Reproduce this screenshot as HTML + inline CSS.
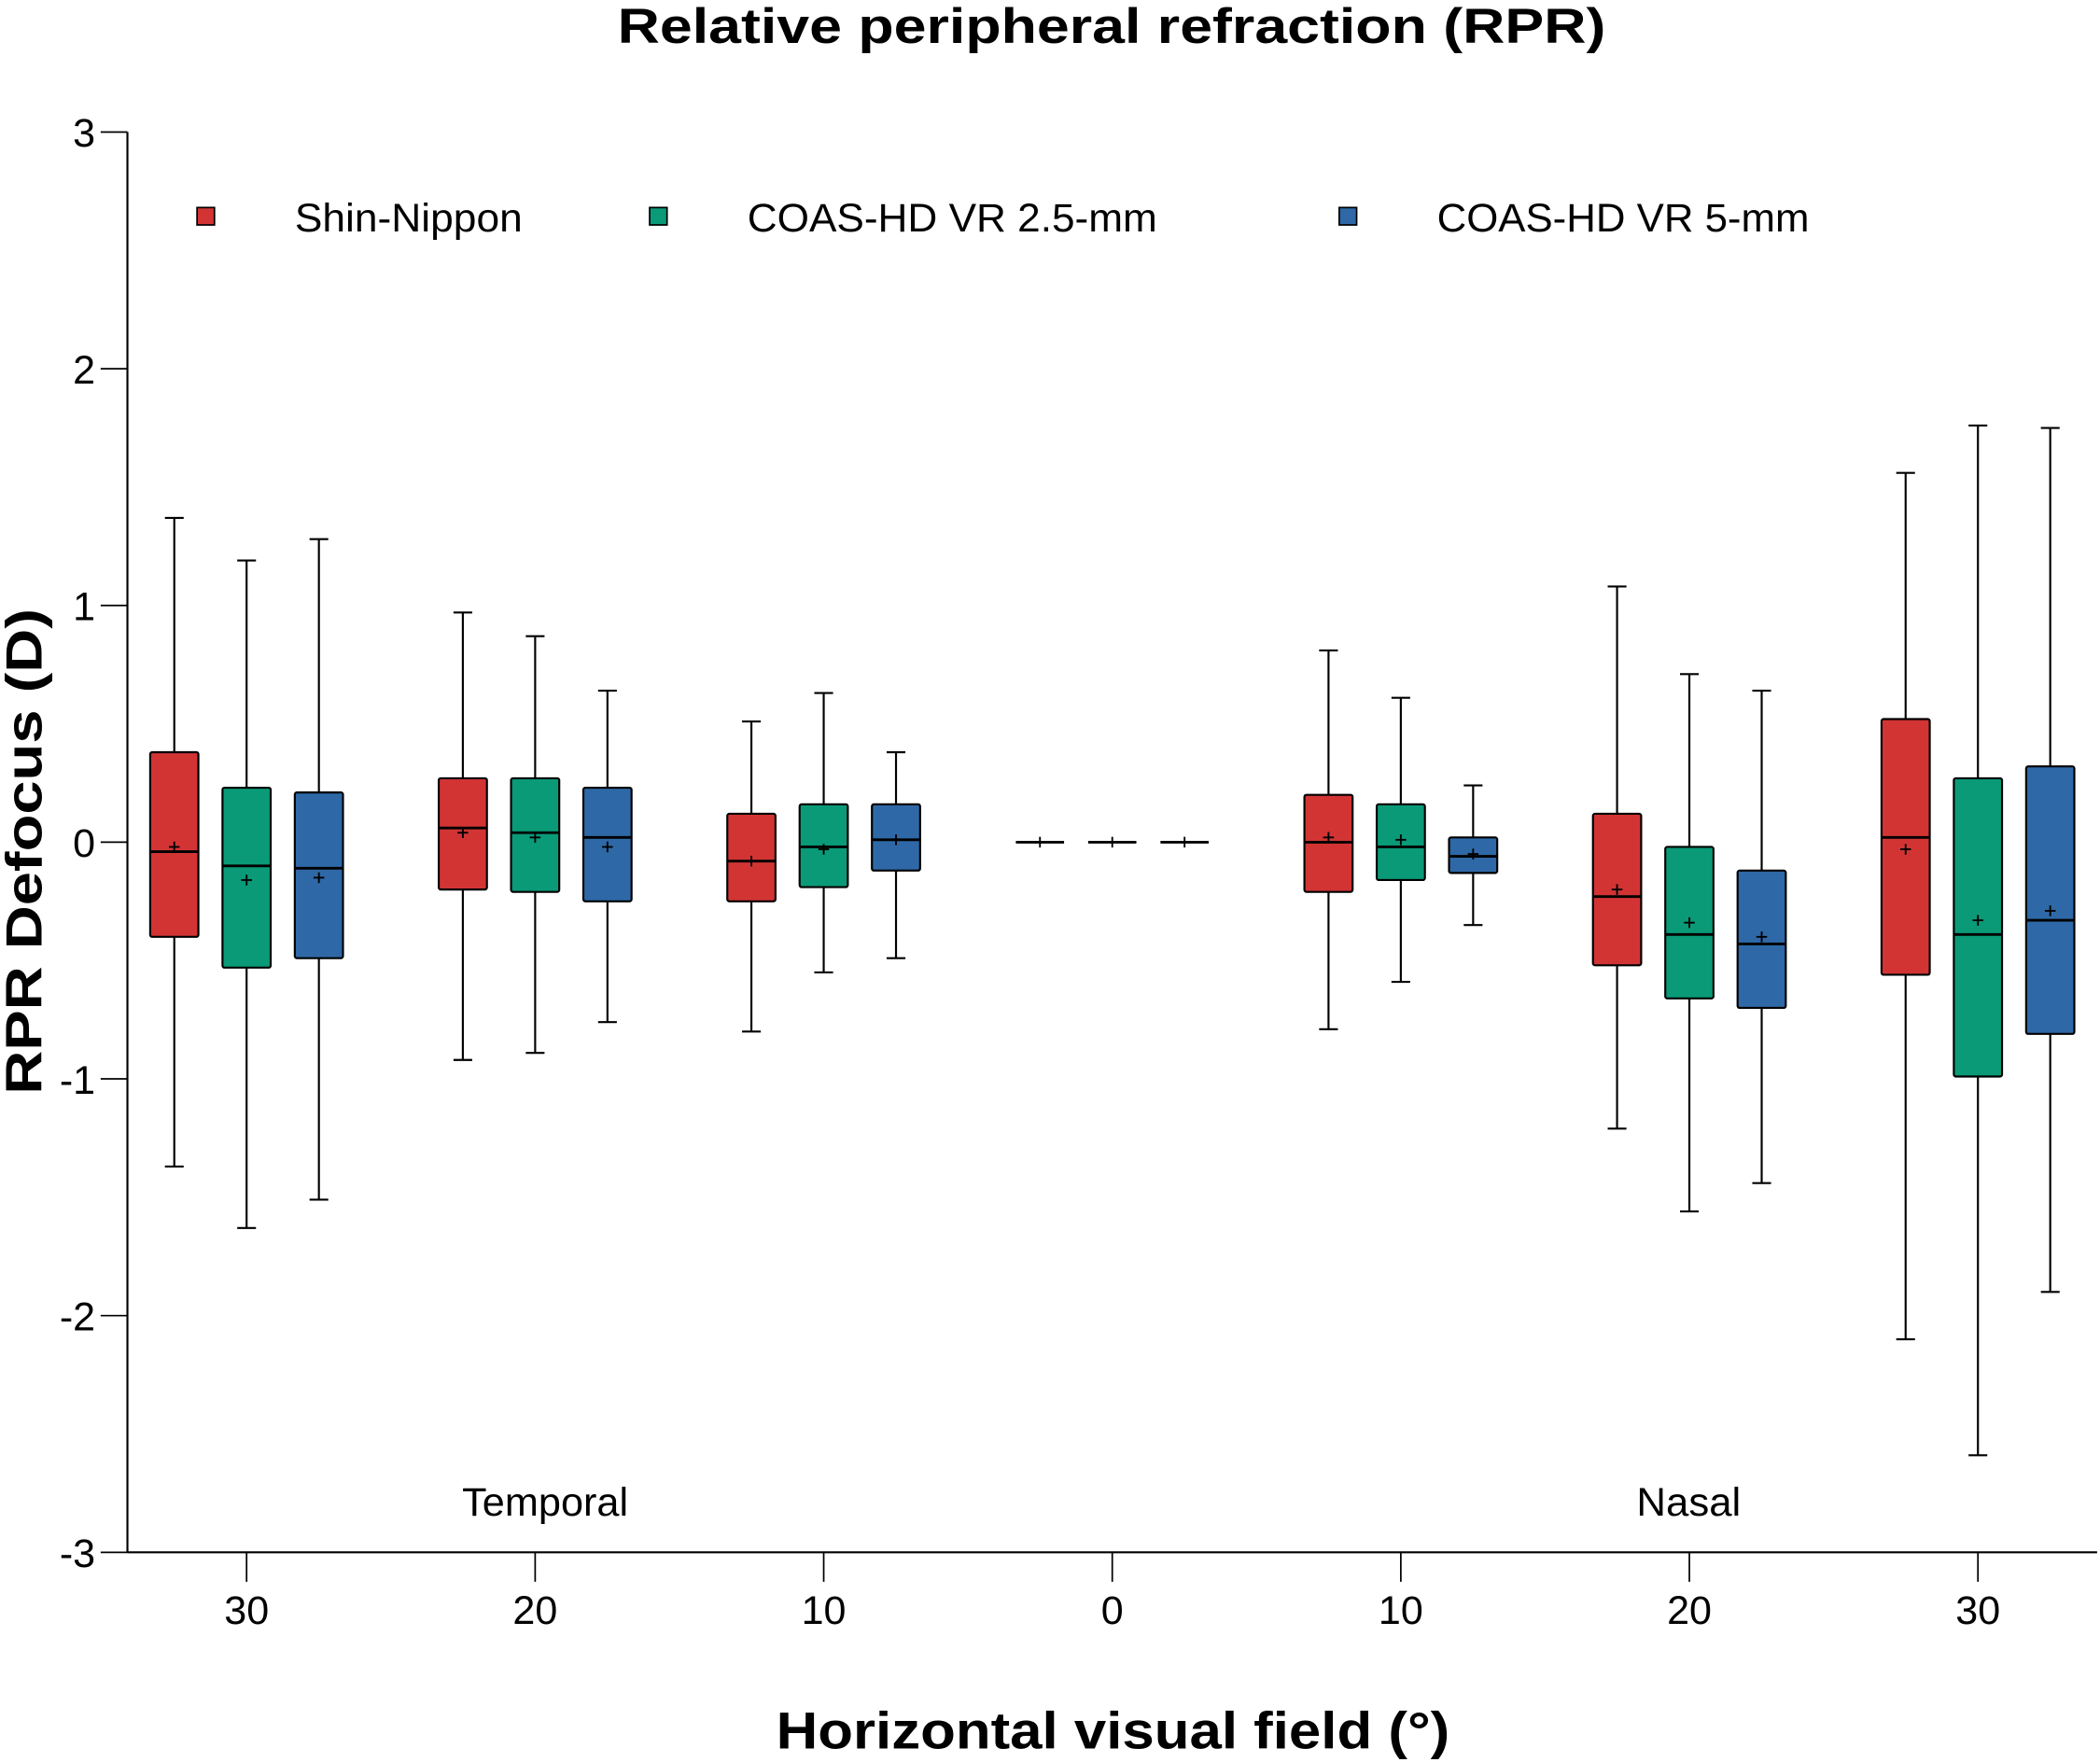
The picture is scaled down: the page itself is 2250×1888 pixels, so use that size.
<!DOCTYPE html>
<html><head><meta charset="utf-8"><style>html,body{margin:0;padding:0;background:#fff}svg{display:block}text{font-family:"Liberation Sans",sans-serif}</style></head>
<body>
<svg id="chart" width="2250" height="1888" viewBox="0 0 1568 1316" xmlns="http://www.w3.org/2000/svg">
<text x="830" y="32" font-size="37" font-weight="bold" text-anchor="middle" textLength="738" lengthAdjust="spacingAndGlyphs">Relative peripheral refraction (RPR)</text>
<text transform="translate(31,636) rotate(-90)" font-size="38" font-weight="bold" text-anchor="middle" textLength="363" lengthAdjust="spacingAndGlyphs">RPR Defocus (D)</text>
<text x="831" y="1306" font-size="39" font-weight="bold" text-anchor="middle" textLength="503" lengthAdjust="spacingAndGlyphs">Horizontal visual field (°)</text>
<text x="407" y="1132" font-size="30" text-anchor="middle" textLength="124" lengthAdjust="spacingAndGlyphs">Temporal</text>
<text x="1261" y="1132" font-size="30" text-anchor="middle" textLength="78" lengthAdjust="spacingAndGlyphs">Nasal</text>
<g id="axes"></g><g id="boxes"></g><g id="legend"></g>
</svg>
<script>
const categories=["30","20","10","0","10","20","30"];
const seriesNames=["Shin-Nippon","COAS-HD VR 2.5-mm","COAS-HD VR 5-mm"];
const yTicks=[3,2,1,0,-1,-2,-3];
const whiskHigh=[[1.37,0.97,0.51,0,0.81,1.08,1.56],[1.19,0.87,0.63,0,0.61,0.71,1.76],[1.28,0.64,0.38,0,0.24,0.64,1.75]];
const q3=[[0.38,0.27,0.12,0,0.20,0.12,0.52],[0.23,0.27,0.16,0,0.16,-0.02,0.27],[0.21,0.23,0.16,0,0.02,-0.12,0.32]];
const median=[[-0.04,0.06,-0.08,0,0,-0.23,0.02],[-0.10,0.04,-0.02,0,-0.02,-0.39,-0.39],[-0.11,0.02,0.01,0,-0.06,-0.43,-0.33]];
const q1=[[-0.40,-0.20,-0.25,0,-0.21,-0.52,-0.56],[-0.53,-0.21,-0.19,0,-0.16,-0.66,-0.99],[-0.49,-0.25,-0.12,0,-0.13,-0.70,-0.81]];
const whiskLow=[[-1.37,-0.92,-0.80,0,-0.79,-1.21,-2.10],[-1.63,-0.89,-0.55,0,-0.59,-1.56,-2.59],[-1.51,-0.76,-0.49,0,-0.35,-1.44,-1.90]];
const means=[[-0.02,0.04,-0.08,0,0.02,-0.20,-0.03],[-0.16,0.02,-0.03,0,0.01,-0.34,-0.33],[-0.15,-0.02,0.01,0,-0.05,-0.40,-0.29]];
const colors=["#d23434","#0a9a78","#2e68a6"];
const NS="http://www.w3.org/2000/svg";
const y=v=>629-176.8*v;
const x=i=>184+215.5*i;
const offs=[-54,0,54];
function mk(tag,at,parent){const e=document.createElementNS(NS,tag);for(const k in at)e.setAttribute(k,at[k]);parent.appendChild(e);return e;}
const axes=document.getElementById('axes');
let e=mk('line',{x1:95,y1:y(3),x2:95,y2:y(-3),stroke:'#000','stroke-width':1.5},axes);


e=mk('line',{x1:95,y1:y(-3),x2:1566,y2:y(-3),stroke:'#000','stroke-width':1.5},axes);


yTicks.forEach(t=>{
 const l=mk('line',{x1:75,y1:y(t),x2:95,y2:y(t),stroke:'#000','stroke-width':1.2},axes);
 
 
 const tx=mk('text',{x:71,y:y(t)+11,'font-size':30,'text-anchor':'end'},axes);tx.textContent=t;
 
 
});
categories.forEach((c,i)=>{
 const l=mk('line',{x1:x(i),y1:y(-3),x2:x(i),y2:y(-3)+22,stroke:'#000','stroke-width':1.2},axes);
 
 
 const tx=mk('text',{x:x(i),y:1213,'font-size':30,'text-anchor':'middle'},axes);tx.textContent=c;
 
 
});
const boxes=document.getElementById('boxes');
for(let s=0;s<3;s++){for(let i=0;i<categories.length;i++){
 const cx=x(i)+offs[s],w=36;
 const g=mk('g',{},boxes);
 
 
 const st={stroke:'#000','stroke-width':1.5};
 mk('line',Object.assign({x1:cx,y1:y(whiskHigh[s][i]),x2:cx,y2:y(q3[s][i])},st),g);
 mk('line',Object.assign({x1:cx,y1:y(q1[s][i]),x2:cx,y2:y(whiskLow[s][i])},st),g);
 mk('line',Object.assign({x1:cx-7,y1:y(whiskHigh[s][i]),x2:cx+7,y2:y(whiskHigh[s][i])},st),g);
 mk('line',Object.assign({x1:cx-7,y1:y(whiskLow[s][i]),x2:cx+7,y2:y(whiskLow[s][i])},st),g);
 const h=y(q1[s][i])-y(q3[s][i]);
 if(h>0.5)mk('rect',{x:cx-w/2,y:y(q3[s][i]),width:w,height:h,fill:colors[s],stroke:'#000','stroke-width':1.5,rx:1.5},g);
 mk('line',{x1:cx-w/2,y1:y(median[s][i]),x2:cx+w/2,y2:y(median[s][i]),stroke:'#000','stroke-width':2},g);
 const my=y(means[s][i]);
 mk('line',{x1:cx-4,y1:my,x2:cx+4,y2:my,stroke:'#000','stroke-width':1.3},g);
 mk('line',{x1:cx,y1:my-4,x2:cx,y2:my+4,stroke:'#000','stroke-width':1.3},g);
}}
const legend=document.getElementById('legend');
const lx=[147,485,1000],tlx=[220,558,1073],tw=[170,306,278];
seriesNames.forEach((n,s)=>{
 const g=mk('g',{},legend);
 
 
 mk('rect',{x:lx[s],y:155,width:13,height:13,fill:colors[s],stroke:'#000','stroke-width':1.2},g);
 const t=mk('text',{x:tlx[s],y:173,'font-size':30,textLength:tw[s],lengthAdjust:'spacingAndGlyphs'},g);t.textContent=n;
});
</script>
</body></html>
